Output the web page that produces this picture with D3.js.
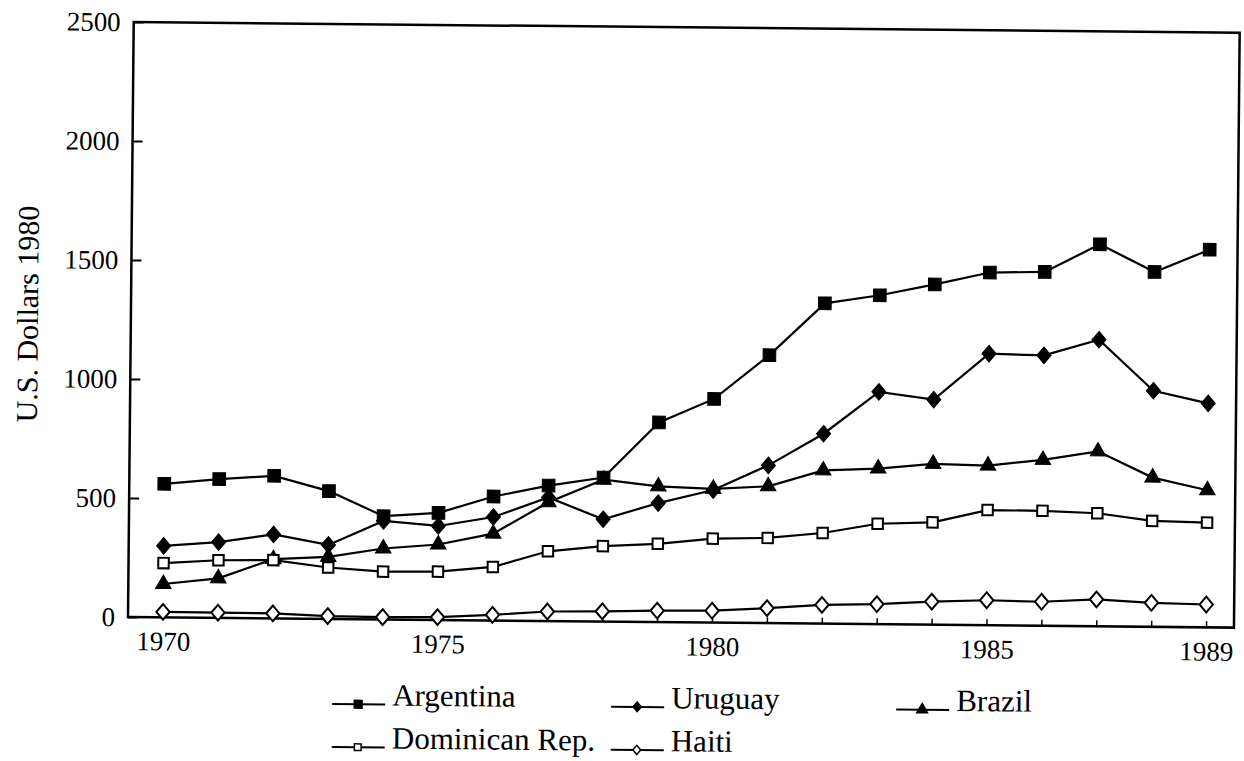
<!DOCTYPE html>
<html>
<head>
<meta charset="utf-8">
<script src="https://cdn.jsdelivr.net/npm/d3@7"></script>
<style>
  body { margin: 0; background: #fff; }
  svg { display: block; font-family: "Liberation Serif", "Times New Roman", serif; }
</style>
</head>
<body>
<svg id="chart" width="1244" height="761"></svg>
<script>
// Data (U.S. dollars, 1980 prices)
const years = [1970, 1971, 1972, 1973, 1974, 1975, 1976, 1977, 1978, 1979,
               1980, 1981, 1982, 1983, 1984, 1985, 1986, 1987, 1988, 1989];
const xTickLabels = [1970, 1975, 1980, 1985, 1989];
const yTicks = [0, 500, 1000, 1500, 2000, 2500];

const argentina = [561, 583, 599, 537, 434, 450, 521, 569, 605, 839,
                   940, 1126, 1346, 1382, 1430, 1482, 1487, 1605, 1491, 1587];
const uruguay   = [300, 318, 353, 311, 414, 395, 435, 519, 430, 500,
                   557, 663, 798, 976, 946, 1141, 1136, 1204, 992, 941];
const brazil    = [140, 166, 249, 261, 298, 317, 365, 499, 596, 570,
                   562, 575, 644, 654, 676, 671, 697, 735, 627, 576];
const dominican = [228, 242, 245, 216, 201, 203, 225, 293, 317, 329,
                   353, 358, 381, 422, 430, 484, 483, 475, 445, 440];
const haiti     = [23, 22, 21, 12, 10, 12, 24, 40, 43, 48,
                   50, 63, 79, 84, 97, 105, 101, 113, 101, 96];

const seriesNames = ["Argentina", "Uruguay", "Brazil", "Dominican Rep.", "Haiti"];
const seriesValues = [argentina, uruguay, brazil, dominican, haiti];

// custom diamond, a bit taller than wide like the printed one
const diamond = {
  draw(ctx, size) {
    const h = Math.sqrt(size) * 0.62, w = h * 0.85;
    ctx.moveTo(0, -h); ctx.lineTo(w, 0); ctx.lineTo(0, h); ctx.lineTo(-w, 0); ctx.closePath();
  }
};

// marker style per series: symbol, size in plot, size in legend, filled?
const markerStyles = [
  { type: d3.symbolSquare,   size: 160, legendSize: 60, filled: true },
  { type: diamond,           size: 180, legendSize: 60, filled: true },
  { type: d3.symbolTriangle, size: 105, legendSize: 50, filled: true },
  { type: d3.symbolSquare,   size: 110, legendSize: 45, filled: false },
  { type: diamond,           size: 160, legendSize: 55, filled: false }
];

const serif = "Liberation Serif, Times New Roman, serif";
const margin = { left: 128, top: 22 };
const width = 1106, height = 595;

const svg = d3.select("#chart");

// the scan is turned a little clockwise; keep that tilt
const g = svg.append("g")
    .attr("transform", `rotate(0.55, ${margin.left}, ${margin.top + height}) translate(${margin.left}, ${margin.top})`);

const x = d3.scaleLinear().domain([1970, 1989]).range([35, 35 + 19 * 54.9]);
const y = d3.scaleLinear().domain([0, 2500]).range([height, 0]);

// y axis, ticks pointing inward
const yAxis = g.append("g")
    .call(d3.axisLeft(y).tickValues(yTicks).tickSize(-10).tickPadding(13).tickFormat(d3.format("d")));
yAxis.select(".domain").remove();
yAxis.selectAll("line").attr("stroke", "#000").attr("stroke-width", 2);
yAxis.selectAll("text").attr("font-size", 27).attr("font-family", serif).attr("fill", "#000");

// x axis, one small tick per year, labels only on some
const xAxis = g.append("g")
    .attr("transform", `translate(0, ${height})`)
    .call(d3.axisBottom(x).tickValues(years).tickSize(-6).tickPadding(14)
      .tickFormat(d => xTickLabels.includes(d) ? String(d) : ""));
xAxis.select(".domain").remove();
xAxis.selectAll("line").attr("stroke", "#000").attr("stroke-width", 1.5);
xAxis.selectAll("text").attr("font-size", 27).attr("font-family", serif).attr("fill", "#000");

// frame
g.append("rect")
    .attr("width", width).attr("height", height)
    .attr("fill", "none").attr("stroke", "#000").attr("stroke-width", 2.5);

// y axis title
g.append("text")
    .attr("transform", `translate(-93, ${293}) rotate(-90)`)
    .attr("text-anchor", "middle")
    .attr("font-family", serif)
    .attr("font-size", 30)
    .text("U.S. Dollars 1980");

const line = d3.line().x((d, i) => x(years[i])).y(d => y(d));

seriesValues.forEach((vals, s) => {
  const st = markerStyles[s];
  const sg = g.append("g").attr("class", "series");
  sg.append("path")
      .datum(vals)
      .attr("d", line)
      .attr("fill", "none")
      .attr("stroke", "#000")
      .attr("stroke-width", 2.2);
  sg.selectAll("path.mark")
      .data(vals)
      .join("path")
      .attr("class", "mark")
      .attr("transform", (d, i) => `translate(${x(years[i])}, ${y(d)})`)
      .attr("d", d3.symbol().type(st.type).size(st.size))
      .attr("fill", st.filled ? "#000" : "#fff")
      .attr("stroke", "#000")
      .attr("stroke-width", st.filled ? 1 : 2);
});

// legend
const legendCols = [205, 484, 769];
const legendRows = [702, 745];
const legendOrder = [[0, 0], [1, 0], [2, 0], [0, 1], [1, 1]];
const legend = g.append("g");
seriesNames.forEach((name, s) => {
  const [c, r] = legendOrder[s];
  const st = markerStyles[s];
  const lg = legend.append("g")
      .attr("transform", `translate(${legendCols[c]}, ${legendRows[r] - margin.top})`);
  lg.append("line")
      .attr("x1", 0).attr("x2", 53).attr("y1", 0).attr("y2", 0)
      .attr("stroke", "#000").attr("stroke-width", 2);
  lg.append("path")
      .attr("transform", "translate(26, 0)")
      .attr("d", d3.symbol().type(st.type).size(st.legendSize))
      .attr("fill", st.filled ? "#000" : "#fff")
      .attr("stroke", "#000").attr("stroke-width", 1.5);
  lg.append("text")
      .attr("x", 60).attr("y", 1)
      .attr("font-family", serif)
      .attr("font-size", 31)
      .text(name);
});
</script>
</body>
</html>
